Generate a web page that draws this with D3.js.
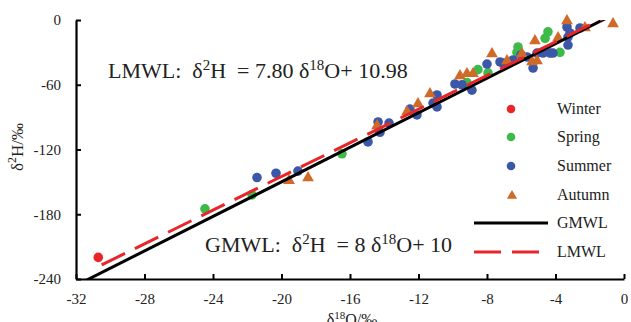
<!DOCTYPE html>
<html>
<head>
<meta charset="utf-8">
<script src="https://cdn.jsdelivr.net/npm/d3@7"></script>
<style>
  body { margin: 0; background: #fff; }
  svg { font-family: "Liberation Serif", "Times New Roman", serif; }
</style>
</head>
<body>
<svg id="chart" width="631" height="322"></svg>
<script>
// data: [d18O, d2H]
const winter = [[-30.7, -220]]
const spring = [[-24.47,-175],[-21.72,-162],[-16.47,-124],[-9.17,-58],[-8.53,-46],[-7.94,-49],
  [-6.19,-25],[-6.25,-30],[-4.61,-17],[-4.44,-11],[-3.74,-30]]
const summer = [[-21.43,-146],[-20.32,-142],[-19.04,-140],[-14.95,-113],[-14.36,-94.5],[-14.25,-104],
  [-13.72,-95.5],[-12.09,-88],[-12.5,-82.5],[-11.15,-77],[-10.92,-80.6],[-10.92,-69.5],[-9.87,-59.3],
  [-9.46,-60],[-8.88,-65],[-8.0,-40.8],[-7.24,-38.9],[-6.83,-39.8],[-7.07,-40],[-6.48,-37],[-6.01,-32.4],
  [-5.66,-34.3],[-5.31,-44.5],[-5.08,-30.6],[-4.73,-30.6],[-4.32,-30.6],[-4.15,-30.6],[-3.27,-23.2],
  [-3.27,-15.8],[-3.33,-6.5],[-2.57,-7.4],[-3.15,-12]]
const autumn = [[-19.56,-148],[-18.45,-145.5],[-14.42,-97.3],[-12.67,-84.3],[-12.03,-77],[-11.33,-67.7],
  [-9.58,-51],[-9.17,-49],[-8.82,-49],[-7.71,-30.6],[-6.83,-37],[-5.96,-30.6],[-5.37,-38],[-5.08,-37],
  [-5.2,-18.5],[-3.85,-15.8],[-3.33,0],[-2.28,-6.5],[-0.64,-2.8]]
// meteoric water lines: slope, intercept
const gmwl = [8, 10]
const lmwl = [7.80, 10.98]
const xTicks = [-32,-28,-24,-20,-16,-12,-8,-4,0]
const yTicks = [-240,-180,-120,-60,0]

const svg = d3.select("#chart")

const x = d3.scaleLinear().domain([-32, 0]).range([76, 624])
const y = d3.scaleLinear().domain([-240, 0]).range([279, 20])

svg.append("clipPath").attr("id", "plotclip")
  .append("rect")
    .attr("x", 76).attr("y", 20)
    .attr("width", 548).attr("height", 259)

// points
const circleSeries = [
  {name: "Winter", data: winter, color: "#e8262a"},
  {name: "Spring", data: spring, color: "#3dba4a"},
  {name: "Summer", data: summer, color: "#3b58a8"}
]
const autumnColor = "#d06a28"
const tri = d3.symbol().type(d3.symbolTriangle).size(60)

circleSeries.forEach(s => {
  svg.append("g")
    .selectAll("circle")
    .data(s.data)
    .join("circle")
      .attr("cx", d => x(d[0]))
      .attr("cy", d => y(d[1]))
      .attr("r", 4.8)
      .attr("fill", s.color)
})

svg.append("g")
  .selectAll("path")
  .data(autumn)
  .join("path")
    .attr("d", tri)
    .attr("transform", d => `translate(${x(d[0])},${y(d[1]) + 0.8})`)
    .attr("fill", autumnColor)

// lines
const lineGen = d3.line().x(d => x(d[0])).y(d => y(d[1]))
const lineData = p => [-33, 1].map(v => [v, p[0] * v + p[1]])

const lines = svg.append("g").attr("clip-path", "url(#plotclip)")
lines.append("path")
  .attr("d", lineGen(lineData(gmwl)))
  .attr("stroke", "#000").attr("stroke-width", 3).attr("fill", "none")
lines.append("path")
  .attr("d", lineGen([[-30.5, lmwl[0]*-30.5 + lmwl[1]], [1, lmwl[0] + lmwl[1]]]))
  .attr("stroke", "#e8262a").attr("stroke-width", 3).attr("fill", "none")
  .attr("stroke-dasharray", "26,11")

// axes
const xAxis = svg.append("g")
  .attr("transform", "translate(0,279)")
  .call(d3.axisBottom(x).tickValues(xTicks).tickFormat(d3.format("d"))
    .tickSizeInner(-5).tickSizeOuter(0).tickPadding(14))
const yAxis = svg.append("g")
  .attr("transform", "translate(76,0)")
  .call(d3.axisLeft(y).tickValues(yTicks).tickFormat(d3.format("d"))
    .tickSizeInner(-5).tickSizeOuter(0).tickPadding(15))

;[xAxis, yAxis].forEach(a => {
  a.select(".domain").attr("stroke", "#000").attr("stroke-width", 2.2)
  a.selectAll(".tick line").attr("stroke", "#000").attr("stroke-width", 2)
  a.selectAll(".tick text")
    .attr("font-family", "Liberation Serif, Times New Roman, serif")
    .attr("font-size", 15).attr("fill", "#222")
    .text(d => d < 0 ? "-" + Math.abs(d) : d)
})

// axis titles
const xt = svg.append("text")
  .attr("x", 352).attr("y", 325)
  .attr("text-anchor", "middle")
  .attr("font-size", 16).attr("fill", "#222")
xt.append("tspan").text("δ")
xt.append("tspan").attr("baseline-shift", "super").attr("font-size", 11).text("18")
xt.append("tspan").text("O/‰")

const yt = svg.append("text")
  .attr("transform", "translate(23,147) rotate(-90)")
  .attr("text-anchor", "middle")
  .attr("font-size", 17).attr("fill", "#222")
yt.append("tspan").text("δ")
yt.append("tspan").attr("baseline-shift", "super").attr("font-size", 12).text("2")
yt.append("tspan").text("H/‰")

// equations
function equation(xp, yp, parts) {
  const t = svg.append("text")
    .attr("x", xp).attr("y", yp)
    .attr("font-size", 22).attr("fill", "#222")
    .attr("xml:space", "preserve")
  parts.forEach(p => {
    const s = t.append("tspan").text(p[0])
    if (p[1]) s.attr("baseline-shift", "super").attr("font-size", 15)
  })
}
equation(108, 78, [["LMWL:  δ"], ["2", true], ["H  = " + lmwl[0].toFixed(2) + " δ"], ["18", true], ["O+ " + lmwl[1]]])
equation(205, 252, [["GMWL:  δ"], ["2", true], ["H  = " + gmwl[0] + " δ"], ["18", true], ["O+ " + gmwl[1]]])

// legend
const legend = svg.append("g")
const legendY = [109, 137, 166, 195, 223, 252]
circleSeries.forEach((s, i) => {
  legend.append("circle").attr("cx", 511).attr("cy", legendY[i]).attr("r", 4.3).attr("fill", s.color)
})
legend.append("path").attr("d", d3.symbol().type(d3.symbolTriangle).size(45))
  .attr("transform", `translate(512,${legendY[3] + 0.8})`).attr("fill", autumnColor)
legend.append("line").attr("x1", 474).attr("x2", 548)
  .attr("y1", legendY[4]).attr("y2", legendY[4])
  .attr("stroke", "#000").attr("stroke-width", 3)
legend.append("line").attr("x1", 474).attr("x2", 539)
  .attr("y1", legendY[5]).attr("y2", legendY[5])
  .attr("stroke", "#e8262a").attr("stroke-width", 3).attr("stroke-dasharray", "27,11")
const names = ["Winter", "Spring", "Summer", "Autumn", "GMWL", "LMWL"]
legend.selectAll("text.lab")
  .data(names)
  .join("text")
    .attr("class", "lab")
    .attr("x", 557)
    .attr("y", (d, i) => legendY[i] + 5)
    .attr("font-size", 16).attr("fill", "#222")
    .text(d => d)
</script>
</body>
</html>
